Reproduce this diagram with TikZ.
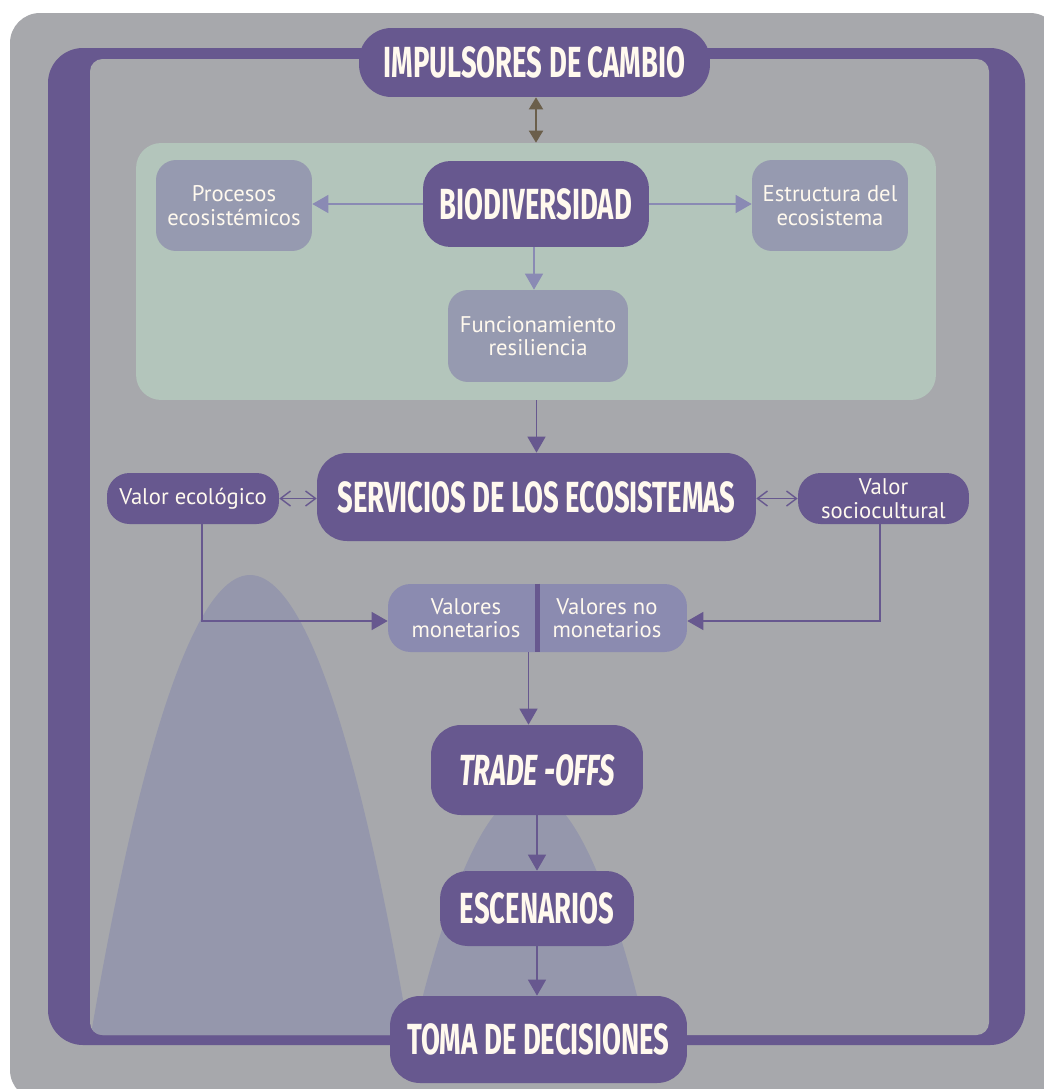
\documentclass[tikz,border=0pt]{standalone}
\usepackage{fontspec}
\usetikzlibrary{positioning,arrows.meta,calc}
\setmainfont{PT Sans}
\newfontfamily\headfont[FakeStretch=0.63]{Fira Sans}
\newfontfamily\bodyfont{PT Sans}
\definecolor{bggray}{RGB}{167,168,172}
\definecolor{framepurple}{RGB}{103,88,143}
\definecolor{panelgreen}{RGB}{179,197,187}
\definecolor{boxlilac}{RGB}{150,154,176}
\definecolor{vallilac}{RGB}{139,139,176}
\definecolor{hillc}{RGB}{149,151,172}
\definecolor{arrowlilac}{RGB}{138,138,180}
\definecolor{drivebrown}{RGB}{107,95,75}
\definecolor{cream}{RGB}{255,249,238}

\begin{document}
\begin{tikzpicture}[x=0.02cm, y=-0.02cm,
    headbox/.style={fill=framepurple, text=cream, inner sep=0pt,
      font=\headfont\bfseries\fontsize{24.8}{26}\selectfont},
    subbox/.style={fill=boxlilac, text=cream, inner sep=0pt, align=center,
      rounded corners=0.4cm, minimum width=3.12cm, minimum height=1.82cm,
      font=\bodyfont\fontsize{12.9}{13.4}\selectfont},
    valbox/.style={fill=framepurple, text=cream, inner sep=0pt, align=center,
      rounded corners=0.45cm, minimum height=1.02cm,
      font=\bodyfont\fontsize{12.9}{13.4}\selectfont},
    valtext/.style={text=cream, align=center, inner sep=0pt,
      font=\bodyfont\fontsize{12.9}{13.4}\selectfont},
    flow/.style={draw=framepurple, line width=0.8pt,
      -{Triangle[length=0.32cm,width=0.36cm]}},
    bioflow/.style={draw=arrowlilac, line width=0.8pt,
      -{Triangle[length=0.32cm,width=0.36cm]}},
    twoway/.style={draw=framepurple, line width=0.8pt,
      {Straight Barb[length=0.2cm,width=0.3cm]}-{Straight Barb[length=0.2cm,width=0.3cm]}}]
  \useasboundingbox (0,0) rectangle (1044,1089);
  \clip (0,0) rectangle (1044,1089);
  % background and frame
  \fill[bggray, rounded corners=0.6cm] (10,13) rectangle (1060,1100);
  \fill[framepurple, rounded corners=0.7cm] (48,48) rectangle (1025,1045);
  \fill[bggray, rounded corners=0.25cm] (90,59) rectangle (989,1035);
  \begin{scope}
    \clip[rounded corners=0.25cm] (90,59) rectangle (989,1035);
    \fill[hillc] (90,1040) parabola bend (250,575) (410,1040) -- cycle;
    \fill[hillc] (412,1040) parabola bend (530,792) (648,1040) -- cycle;
  \end{scope}
  \node[fill=panelgreen, rounded corners=0.5cm, inner sep=0pt,
    minimum width=16cm, minimum height=5.14cm] (ecopanel) at (536,271.5) {};

  \node[headbox, rounded corners=0.65cm, minimum width=7.02cm, minimum height=1.38cm]
    (impulsores) at (534.5,62.5) {IMPULSORES DE CAMBIO};
  \node[headbox, rounded corners=0.55cm, minimum width=4.52cm, minimum height=1.72cm]
    (biodiv) at (536,204) {BIODIVERSIDAD};
  \node[subbox] (procesos) at (234,205.5) {Procesos\\ecosistémicos};
  \node[subbox] (estructura) at (830,205.5) {Estructura del\\ecosistema};
  \node[subbox, minimum width=3.6cm, minimum height=1.84cm]
    (funcion) at (538,336) {Funcionamiento\\resiliencia};
  \node[headbox, rounded corners=0.6cm, minimum width=8.78cm, minimum height=1.76cm]
    (servicios) at (536.5,497) {SERVICIOS DE LOS ECOSISTEMAS};
  \node[valbox, minimum width=3.44cm] (valeco) at (193,498.5) {Valor ecológico};
  \node[valbox, minimum width=3.42cm] (valsocio) at (883.5,498.5) {Valor\\sociocultural};
  \node[fill=vallilac, rounded corners=0.45cm, inner sep=0pt,
    minimum width=5.98cm, minimum height=1.36cm] (valores) at (537.5,618) {};
  \node[valtext] (monet) at (466,618) {Valores\\monetarios};
  \node[valtext] (nomonet) at (607,618) {Valores no\\monetarios};
  \draw[framepurple, line width=2.3pt] (valores.north) -- (valores.south);
  \node[headbox, rounded corners=0.6cm, minimum width=4.24cm, minimum height=1.8cm]
    (tradeoffs) at (537,770) {\itshape TRADE -OFFS};
  \node[headbox, rounded corners=0.55cm, minimum width=3.88cm, minimum height=1.5cm]
    (escenarios) at (537,908.5) {ESCENARIOS};
  \node[headbox, rounded corners=0.6cm, minimum width=5.94cm, minimum height=1.74cm]
    (toma) at (538.5,1039.5) {TOMA DE DECISIONES};

  % connectors
  \draw[drivebrown, line width=1.1pt, {Triangle[length=0.24cm,width=0.28cm]}-{Triangle[length=0.24cm,width=0.28cm]}]
    (impulsores.south -| biodiv) -- (ecopanel.north -| biodiv);
  \draw[bioflow] (biodiv.west) -- (biodiv.west -| procesos.east);
  \draw[bioflow] (biodiv.east) -- (biodiv.east -| estructura.west);
  \draw[bioflow] ([xshift=-0.04cm]biodiv.south) -- ([xshift=-0.04cm]biodiv.south |- funcion.north);
  \draw[flow] (ecopanel.south -| servicios) -- (servicios.north);
  \draw[twoway] (valeco.east) -- (valeco.east -| servicios.west);
  \draw[twoway] (servicios.east |- valsocio.west) -- (valsocio.west);
  \draw[flow] ([xshift=0.18cm]valeco.south) |- ([yshift=-0.06cm]valores.west);
  \draw[flow] ([xshift=-0.07cm]valsocio.south) |- ([yshift=-0.06cm]valores.east);
  \draw[flow] ([xshift=-0.18cm]valores.south) -- ([xshift=-0.18cm]valores.south |- tradeoffs.north);
  \draw[flow] (tradeoffs.south) -- (escenarios.north);
  \draw[flow] (escenarios.south) -- (escenarios.south |- toma.north);
\end{tikzpicture}
\end{document}
